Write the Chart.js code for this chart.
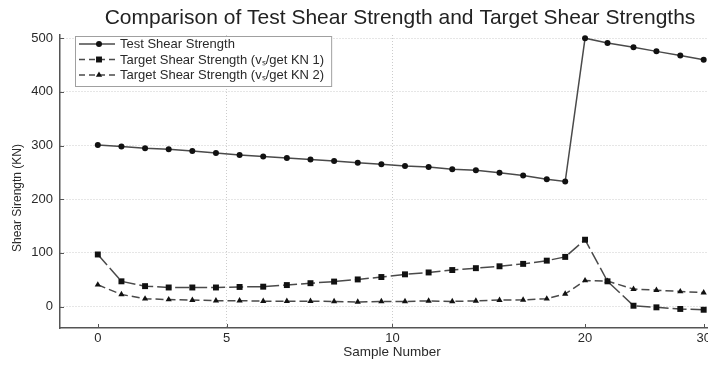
<!DOCTYPE html>
<html>
<head>
<meta charset="utf-8">
<script src="https://cdn.jsdelivr.net/npm/chart.js@4.4.1/dist/chart.umd.min.js"></script>
<style>
  html, body { margin: 0; padding: 0; background: #fff; overflow: hidden; }
  #wrap { width: 708px; height: 365px; overflow: hidden; }
</style>
</head>
<body>
<div id="wrap"><canvas id="c" width="800" height="365"></canvas></div>
<script>
// x positions of the samples along the (uneven) axis
const samplePos = [0, 1, 2, 3, 4, 5, 6, 7, 8, 9, 10, 11, 12, 13, 14, 15, 16, 17, 18, 19,
  19.78, 20.62, 21.57, 22.67, 23.64, 24.65, 25.64];
const xTickPos = [0, 5.45, 12.47, 20.62, 25.64];
const xTickText = ['0', '5', '10', '20', '30'];
const yTicks = [0, 100, 200, 300, 400, 500];

const testStrength = [301, 298, 295, 293, 290, 286, 282.5, 279.5, 277, 274, 271, 268, 265,
  262, 260, 256, 254, 249.5, 244, 237, 233, 500, 491, 483, 475.5, 468, 460];
const targetKN1 = [97, 47, 38, 35.5, 35.5, 35.5, 36.5, 37, 40, 43.5, 46.5, 50.5, 55,
  60, 63.5, 68, 71.5, 75, 79.5, 85.5, 92.5, 124.5, 47, 1.5, -1.5, -4.5, -6];
const targetKN2 = [40.5, 22.5, 14.5, 13, 12, 11, 11, 10, 10, 10, 9.5, 8.5, 9.5,
  9.5, 10.5, 9.5, 10.5, 12, 12.5, 14.5, 23.5, 48.5, 47.5, 32.5, 30.5, 28, 26];

const FONT = '"Liberation Sans", Arial, Helvetica, sans-serif';
const TXT = '#2a2a2a';
const LINE = '#4a4a4a';
const MARK = '#111';
const GRID = '#cccccc';

const pts = ys => ys.map((y, i) => ({ x: samplePos[i], y }));

const frame = {
  id: 'frame',
  afterDatasetsDraw(chart) {
    const { ctx, chartArea: a, scales: { x, y } } = chart;
    ctx.save();
    ctx.strokeStyle = '#555';
    ctx.lineWidth = 1;
    ctx.beginPath();
    x.ticks.forEach(t => {
      const px = Math.round(x.getPixelForValue(t.value)) + 0.5;
      ctx.moveTo(px, a.bottom); ctx.lineTo(px, a.bottom - 4);
    });
    y.ticks.forEach(t => {
      const py = Math.round(y.getPixelForValue(t.value)) + 0.5;
      ctx.moveTo(a.left, py); ctx.lineTo(a.left + 4, py);
    });
    ctx.stroke();
    ctx.restore();
  },
  afterDraw(chart) {
    const { ctx } = chart;
    ctx.save();
    // main title
    ctx.fillStyle = '#222';
    ctx.font = '21px ' + FONT;
    ctx.textAlign = 'center';
    ctx.textBaseline = 'middle';
    ctx.fillText('Comparison of Test Shear Strength and Target Shear Strengths', 400, 18);
    // y title
    ctx.font = '12px ' + FONT;
    ctx.fillStyle = TXT;
    ctx.translate(18, 198);
    ctx.rotate(-Math.PI / 2);
    ctx.fillText('Shear Sirengtn (KN)', 0, 0);
    ctx.restore();

    // legend box
    ctx.save();
    ctx.font = '13px ' + FONT;
    const dsets = chart.data.datasets;
    const textW = Math.max(...dsets.map(d => ctx.measureText(d.label).width));
    const bx = 75.5, by = 36.5, bw = 120 - 75 + textW + 7, bh = 50;
    ctx.fillStyle = '#fff';
    ctx.strokeStyle = '#a0a0a0';
    ctx.lineWidth = 1;
    ctx.fillRect(bx, by, bw, bh);
    ctx.strokeRect(bx, by, bw, bh);
    dsets.forEach((d, i) => {
      const ry = 44 + i * 15.5;
      ctx.strokeStyle = d.borderColor;
      ctx.lineWidth = d.borderWidth;
      ctx.setLineDash(d.borderDash ? [6, 4] : []);
      ctx.beginPath();
      ctx.moveTo(79, ry); ctx.lineTo(115, ry);
      ctx.stroke();
      ctx.setLineDash([]);
      ctx.fillStyle = MARK;
      Chart.helpers.drawPoint(ctx, { pointStyle: d.pointStyle, radius: d.pointRadius, borderWidth: 0, rotation: 0 }, 99, ry);
      ctx.fillStyle = TXT;
      ctx.textAlign = 'left';
      ctx.textBaseline = 'middle';
      ctx.fillText(d.label, 120, ry + 0.5);
    });
    ctx.restore();
  }
};

new Chart(document.getElementById('c'), {
  type: 'line',
  data: {
    datasets: [
      {
        label: 'Test Shear Strength',
        data: pts(testStrength),
        borderColor: LINE, borderWidth: 1.5,
        pointStyle: 'circle', pointRadius: 3,
        pointBackgroundColor: MARK, pointBorderColor: MARK, pointBorderWidth: 0,
      },
      {
        label: 'Target Shear Strength (vₛ/get KN 1)',
        data: pts(targetKN1),
        borderColor: LINE, borderWidth: 1.5, borderDash: [14, 4],
        pointStyle: 'rect', pointRadius: 4.2,
        pointBackgroundColor: MARK, pointBorderColor: MARK, pointBorderWidth: 0,
      },
      {
        label: 'Target Shear Strength (vₛ/get KN 2)',
        data: pts(targetKN2),
        borderColor: LINE, borderWidth: 1.5, borderDash: [8, 4],
        pointStyle: 'triangle', pointRadius: 3.6,
        pointBackgroundColor: MARK, pointBorderColor: MARK, pointBorderWidth: 0,
      },
    ],
  },
  options: {
    responsive: false,
    animation: false,
    layout: { padding: { top: 35, right: 76, left: 0, bottom: 0 } },
    plugins: { legend: { display: false }, title: { display: false }, tooltip: { enabled: false } },
    scales: {
      x: {
        type: 'linear', min: -1.6, max: 26.5,
        afterBuildTicks: s => { s.ticks = xTickPos.map(v => ({ value: v })); },
        afterFit: s => { s.height = 37; },
        ticks: {
          callback: (v, i) => xTickText[i],
          autoSkip: false, maxRotation: 0, padding: 3,
          color: TXT, font: { family: FONT, size: 13 },
        },
        grid: {
          drawTicks: false,
          color: c => (c.index === 1 || c.index === 2) ? GRID : 'transparent',
        },
        border: { display: true, color: '#555', width: 1.5, dash: [1, 2] },
        title: {
          display: true, text: 'Sample Number', color: TXT,
          font: { family: FONT, size: 13.5 }, padding: { top: 0, bottom: 5 },
        },
      },
      y: {
        min: -40, max: 506,
        afterBuildTicks: s => { s.ticks = yTicks.map(v => ({ value: v })); },
        afterFit: s => { s.width = 60; },
        ticks: { padding: 7, color: TXT, font: { family: FONT, size: 13 } },
        grid: { drawTicks: false, color: GRID },
        border: { display: true, color: '#555', width: 1.5, dash: [1, 2] },
      },
    },
  },
  plugins: [frame],
});
</script>
</body>
</html>
